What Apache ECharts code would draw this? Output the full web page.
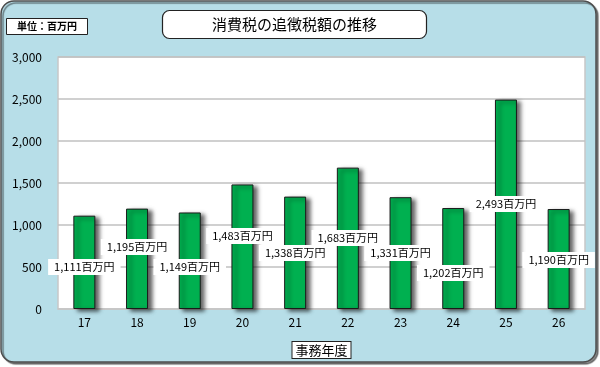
<!DOCTYPE html>
<html><head><meta charset="utf-8">
<script src="https://cdn.jsdelivr.net/npm/echarts@6/dist/echarts.min.js"></script>
<style>html,body{margin:0;padding:0;background:#fff}#c{width:600px;height:367px}</style>
</head><body><div id="c"></div>
<script>
const categories = ['17','18','19','20','21','22','23','24','25','26'];
const values = [1111, 1195, 1149, 1483, 1338, 1683, 1331, 1202, 2493, 1190];
const yTicks = [0, 500, 1000, 1500, 2000, 2500, 3000];
const labelRise = [42, 62, 42, 73, 56, 71, 56, 36, 105, 49];

const FONT = '"Noto Sans CJK JP", "Noto Sans", sans-serif';
const fmt = v => v.toString().replace(/\B(?=(\d{3})+(?!\d))/g, ',');

const chart = echarts.init(document.getElementById('c'), null, {renderer: 'canvas'});
chart.setOption({
  backgroundColor: '#ffffff',
  animation: false,
  textStyle: {fontFamily: FONT},
  graphic: [{
    type: 'rect', z: -100, silent: true,
    shape: {x: 1, y: 1, width: 595, height: 361, r: 13},
    style: {fill: '#b7dee8', stroke: '#4d4d4d', lineWidth: 1.5,
      shadowColor: 'rgba(0,0,0,0.45)', shadowOffsetX: 2, shadowOffsetY: 2, shadowBlur: 1}
  }],
  title: [{
    text: '消費税の追徴税額の推移',
    left: 162, top: 10,
    padding: [6, 50],
    backgroundColor: '#ffffff', borderColor: '#222', borderWidth: 1.2, borderRadius: 7,
    textStyle: {fontSize: 15, fontWeight: 'normal', color: '#000', fontFamily: FONT, lineHeight: 17}
  }, {
    text: '単位：百万円',
    left: 6, top: 18,
    padding: [3, 11],
    backgroundColor: '#ffffff', borderColor: '#222', borderWidth: 1,
    textStyle: {fontSize: 10, fontWeight: 'bold', color: '#000', fontFamily: FONT, lineHeight: 11}
  }],
  grid: {left: 58, right: 15, top: 57, bottom: 58, show: true,
    backgroundColor: '#ffffff', borderColor: '#c8c8c8', borderWidth: 1.5},
  xAxis: {
    type: 'category', data: categories,
    axisLine: {show: true, lineStyle: {color: '#c8c8c8', width: 1.5}},
    axisTick: {show: false},
    axisLabel: {fontSize: 12, color: '#000', margin: 7, fontFamily: FONT},
    name: '事務年度', nameLocation: 'middle', nameGap: 33,
    nameTextStyle: {fontSize: 13, color: '#000', fontFamily: FONT,
      backgroundColor: '#fff', borderColor: '#222', borderWidth: 1, padding: [2, 3, 1, 3]}
  },
  yAxis: {
    type: 'value', min: yTicks[0], max: yTicks[yTicks.length - 1], interval: 500,
    axisLine: {show: false}, axisTick: {show: false},
    axisLabel: {fontSize: 12, color: '#000', margin: 16, fontFamily: FONT, formatter: v => fmt(v)},
    splitLine: {lineStyle: {color: '#c0c0c0', width: 1.5}}
  },
  series: [{
    type: 'bar',
    barWidth: 22,
    data: values.map((v, i) => ({
      value: v,
      label: {distance: labelRise[i] - 8}
    })),
    itemStyle: {color: '#00b050', borderColor: '#1a1a1a', borderWidth: 1,
      shadowColor: 'rgba(0,0,0,0.6)', shadowOffsetX: 4, shadowOffsetY: 2, shadowBlur: 4},
    label: {
      show: true, position: 'insideBottom',
      formatter: p => fmt(p.value) + '百万円',
      fontSize: 11, color: '#000', fontFamily: FONT,
      backgroundColor: '#ffffff', padding: [2, 6], lineHeight: 12
    }
  }]
});
</script></body></html>
